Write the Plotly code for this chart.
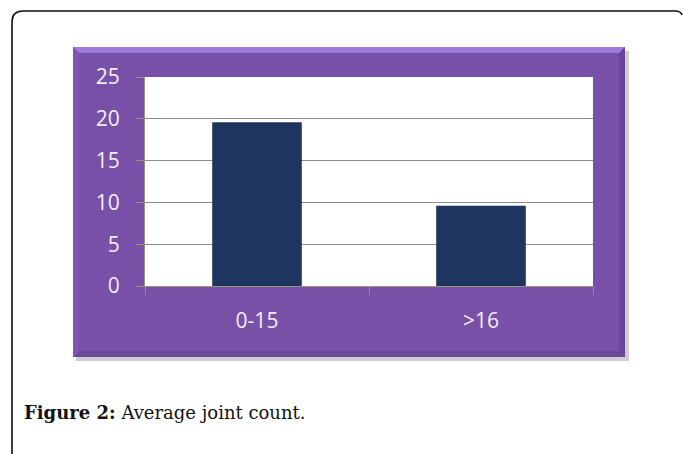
import plotly.graph_objects as go

categories = ["0-15", ">16"]
values = [19.6, 9.6]
y_ticks = [0, 5, 10, 15, 20, 25]

W, H = 683, 454
PL, PR, PT, PB = 145, 593, 77, 286  # plot area in pixels


def px(x):
    return (x - PL) / (PR - PL)


def py(y):
    return (PB - y) / (PB - PT)


def path(points, close=True):
    s = "M " + " L ".join(f"{px(x):.5f},{py(y):.5f}" for x, y in points)
    return s + (" Z" if close else "")


fig = go.Figure()
fig.add_trace(go.Bar(
    x=categories, y=values,
    marker=dict(color="#1E3560", line=dict(width=0)),
    width=0.4,
))

FX0, FY0, FX1, FY1 = 73, 47, 625, 357
bev = 6
shapes = [
    # shadow
    dict(type="rect", xref="paper", yref="paper",
         x0=px(FX0 + 3), x1=px(FX1 + 4), y0=py(FY0 + 4), y1=py(FY1 + 4),
         fillcolor="rgba(120,110,130,0.35)", line=dict(width=0), layer="below"),
    # frame
    dict(type="rect", xref="paper", yref="paper",
         x0=px(FX0), x1=px(FX1), y0=py(FY0), y1=py(FY1),
         fillcolor="#7850A8", line=dict(width=0), layer="below"),
    # top bevel
    dict(type="path", xref="paper", yref="paper",
         path=path([(FX0, FY0), (FX1, FY0), (FX1 - bev, FY0 + bev), (FX0 + bev, FY0 + bev)]),
         fillcolor="#A07CDA", line=dict(width=0), layer="below"),
    # right bevel
    dict(type="path", xref="paper", yref="paper",
         path=path([(FX1, FY0), (FX1, FY1), (FX1 - bev, FY1 - bev), (FX1 - bev, FY0 + bev)]),
         fillcolor="#6A4496", line=dict(width=0), layer="below"),
    # bottom bevel
    dict(type="path", xref="paper", yref="paper",
         path=path([(FX0, FY1), (FX1, FY1), (FX1 - bev, FY1 - bev), (FX0 + bev, FY1 - bev)]),
         fillcolor="#6C4A9A", line=dict(width=0), layer="below"),
    # left bevel
    dict(type="path", xref="paper", yref="paper",
         path=path([(FX0, FY0), (FX0, FY1), (FX0 + bev, FY1 - bev), (FX0 + bev, FY0 + bev)]),
         fillcolor="#7E56AE", line=dict(width=0), layer="below"),
    # plot area white
    dict(type="rect", xref="paper", yref="paper", x0=0, x1=1, y0=0, y1=1,
         fillcolor="white", line=dict(width=0), layer="below"),
    # outer border with rounded corners
    dict(type="path", xref="paper", yref="paper",
         path=("M " + f"{px(12):.5f},{py(460):.5f} L {px(12):.5f},{py(22):.5f} "
               f"Q {px(12):.5f},{py(11):.5f} {px(23):.5f},{py(11):.5f} "
               f"L {px(675):.5f},{py(11):.5f} Q {px(681):.5f},{py(11):.5f} {px(682):.5f},{py(15):.5f}"),
         line=dict(color="#111111", width=1.6), layer="above"),
]

fig.update_layout(
    width=W, height=H,
    margin=dict(l=PL, r=W - PR, t=PT, b=H - PB, pad=0),
    paper_bgcolor="white", plot_bgcolor="white",
    showlegend=False,
    bargap=0.6,
    shapes=shapes,
    annotations=[dict(
        xref="paper", yref="paper", x=px(22), y=py(412),
        xanchor="left", yanchor="middle", showarrow=False,
        text="<b>Figure 2:</b> Average joint count.",
        font=dict(family="DejaVu Serif", size=18, color="#111111"),
    )],
)
fig.update_yaxes(
    range=[0, 25], tickvals=y_ticks, ticktext=[str(v) for v in y_ticks],
    showgrid=True, gridcolor="#8C8C8C", gridwidth=1,
    ticks="outside", ticklen=8, tickcolor="#9A9478", tickwidth=1,
    tickfont=dict(family="Open Sans", size=21, color="#F2EEF8"),
    ticklabelstandoff=12,
    showline=True, linecolor="#9A9478", linewidth=1,
    zeroline=False,
)
fig.update_xaxes(
    showgrid=False,
    ticks="outside", tickson="boundaries", ticklen=8, tickcolor="#9A9478", tickwidth=1,
    tickfont=dict(family="Open Sans", size=21, color="#F2EEF8"),
    ticklabelstandoff=16,
    showline=True, linecolor="#9A9478", linewidth=1,
)

fig.write_html("out.html")
